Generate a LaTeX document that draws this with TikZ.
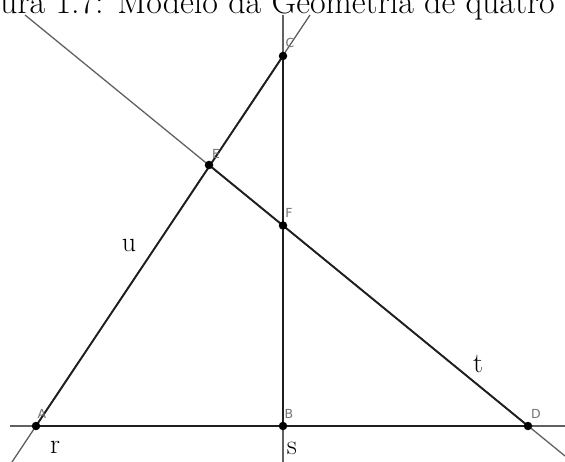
\documentclass[tikz,border=0pt]{standalone}
\usepackage{fontspec}
\newfontfamily\lblfont{DejaVu Sans}
\begin{document}
\begin{tikzpicture}[x=1pt,y=-1pt,
  ext/.style={draw=black!62, line width=1.3pt},
  seg/.style={draw=black!88, line width=1.9pt},
  dot/.style={circle, fill=black, inner sep=0pt, minimum size=8.5pt},
  plbl/.style={font=\lblfont\fontsize{12.5}{14}\selectfont, text=black!55, inner sep=0pt},
  llbl/.style={font=\fontsize{28}{32}\selectfont, inner sep=0pt, anchor=base}]
\useasboundingbox (0,0) rectangle (565,462);
\begin{scope}
  \clip (0,0) rectangle (565,462);
  \node[anchor=base east, font=\fontsize{34}{40}\selectfont, inner sep=0pt] (cap) at (555,14) {Figura 1.7: Modelo da Geometria de quatro\rlap{ pontos}};
\end{scope}
% points
\coordinate (A) at (36,426);
\coordinate (B) at (283,426);
\coordinate (D) at (528,426);
\coordinate (C) at (283,56);
\coordinate (E) at (209,165);
\coordinate (F) at (283,225.5);
% line ends
\coordinate (rL) at (10,426);
\coordinate (rR) at (565,426);
\coordinate (sT) at (283,15);
\coordinate (sB) at (283,462);
\coordinate (uB) at (12,462);
\coordinate (uT) at (310,15);
\coordinate (tT) at (25,15);
\coordinate (tB) at (565,456);
% extensions
\draw[ext] (rL) -- (rR);
\draw[ext] (sT) -- (sB);
\draw[ext] (uB) -- (uT);
\draw[ext] (tT) -- (tB);
% segments
\draw[seg] (A) -- (D);
\draw[seg] (B) -- (C);
\draw[seg] (A) -- (C);
\draw[seg] (E) -- (D);
% dots
\foreach \p in {A,B,C,D,E,F} \node[dot] (d\p) at (\p) {};
% point labels
\node[plbl] (lA) at (42,414) {A};
\node[plbl] (lB) at (289,414) {B};
\node[plbl] (lC) at (290,43) {C};
\node[plbl] (lD) at (536,414) {D};
\node[plbl] (lE) at (216,154) {E};
\node[plbl] (lF) at (289,213) {F};
% line labels
\node[llbl] (lu) at (129,252) {u};
\node[llbl] (lt) at (478,372) {t};
\node[llbl] (lr) at (55,453) {r};
\node[llbl] (ls) at (292,454) {s};
\end{tikzpicture}
\end{document}
